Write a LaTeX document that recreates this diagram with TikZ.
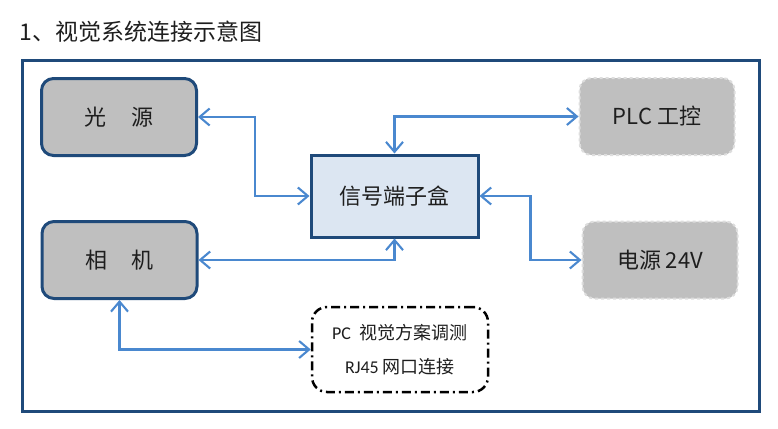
\documentclass[tikz,border=0pt]{standalone}
\usepackage{fontspec}
\setmainfont{Carlito}
\newfontfamily\cjk{Noto Sans CJK SC}
\usepackage{xcolor}
\usetikzlibrary{arrows.meta}
\definecolor{frameblue}{HTML}{1F4A7A}
\definecolor{boxgray}{HTML}{BFBFBF}
\definecolor{boxblue}{HTML}{DCE6F2}
\definecolor{linkblue}{HTML}{4A88CF}
\definecolor{dashgray}{HTML}{DDDDDD}
\definecolor{inkgray}{HTML}{1E1E1E}

\begin{document}
\begin{tikzpicture}[x=1pt,y=-1pt,
    unit/.style={draw=frameblue,line width=3pt,fill=boxgray,rounded corners=12pt,
      minimum width=155pt,minimum height=77pt,inner sep=0pt,text=inkgray,
      font=\cjk\fontsize{22}{26}\selectfont},
    ext/.style={unit,draw=dashgray,dashed,line width=2pt},
    hub/.style={unit,fill=boxblue,rounded corners=0pt,minimum width=167pt,minimum height=82pt},
    pcbox/.style={draw=black,line width=2.5pt,dash pattern=on 9pt off 4pt on 2pt off 4pt,
      rounded corners=15pt,minimum width=176pt,minimum height=85pt,inner sep=0pt,
      align=center,text=inkgray,font=\fontsize{18}{34}\selectfont},
    link/.style={linkblue,line width=2.1pt,
      {Straight Barb[length=10pt,width=17pt]}-{Straight Barb[length=10pt,width=17pt]}}]
  \useasboundingbox (0,0) rectangle (778,428);
  \node[anchor=west,text=inkgray,font=\cjk\fontsize{23}{28}\selectfont] (title) at (16,32) {1、视觉系统连接示意图};
  \draw[frameblue,line width=3pt] (22,60) rectangle (759,411);
  \node[unit] (light) at (119,117) {光\hspace{1.1em}源};
  \node[unit] (camera) at (119.5,260) {相\hspace{1.1em}机};
  \node[hub] (signal) at (394.5,196) {信号端子盒};
  \node[ext] (plc) at (657,116.5) {PLC {\cjk 工控}};
  \node[ext] (power) at (660,260) {{\cjk 电源} 24V};
  \node[pcbox] (pc) at (400,349.5) {PC\hspace{0.5em}{\cjk 视觉方案调测}\\RJ45 {\cjk 网口连接}};
  \draw[link] (light.east) -- ++(57,0) |- (signal.west);
  \draw[link] (camera.east) -| (signal.south);
  \draw[link] (signal.north) |- (plc.west);
  \draw[link] (signal.east) -- ++(51,0) |- (power.west);
  \draw[link] (camera.south) |- (pc.west);
\end{tikzpicture}
\end{document}
